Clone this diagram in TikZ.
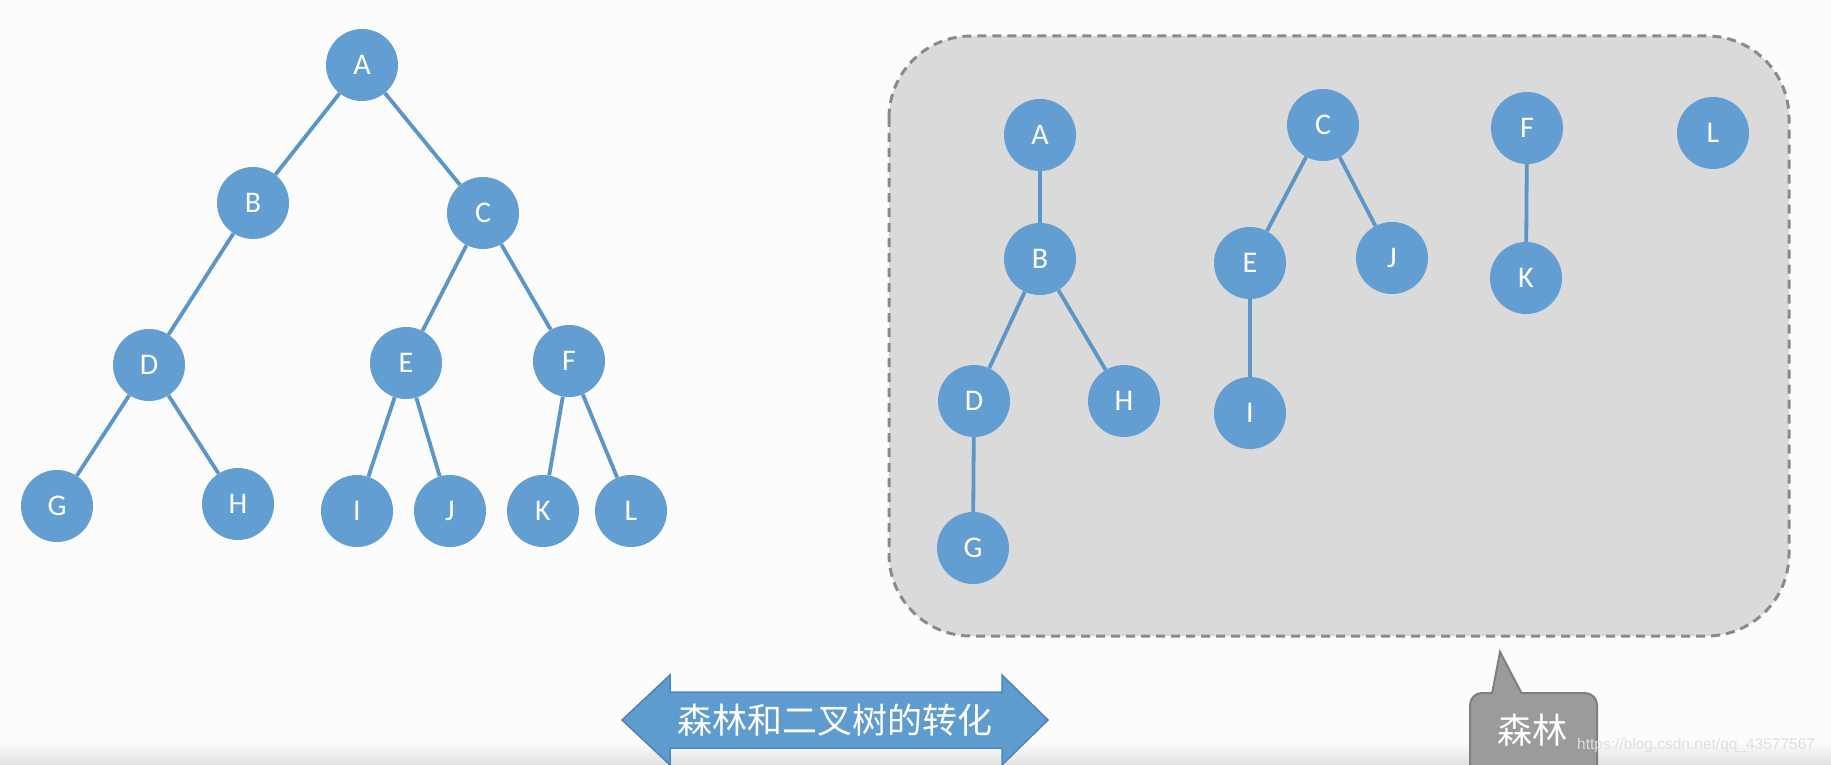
\documentclass[tikz,border=0pt]{standalone}
\usepackage{fontspec}
\newfontfamily\nodefont{Carlito}
\newfontfamily\cjk{Noto Sans CJK SC}
\newfontfamily\wmfont{Liberation Sans}
\definecolor{bgcol}{HTML}{FCFCFD}
\definecolor{nodeblue}{HTML}{639ED2}
\definecolor{edgeblue}{HTML}{5C95C8}
\definecolor{boxfill}{HTML}{DADADA}
\definecolor{boxline}{HTML}{858B94}
\definecolor{arrowfill}{HTML}{5E9BCF}
\definecolor{arrowline}{HTML}{4F86B8}
\definecolor{callfill}{HTML}{9B9B9B}
\definecolor{callline}{HTML}{7A8088}
\tikzset{
  tnode/.style={circle, fill=nodeblue, minimum size=72pt, inner sep=0pt,
    text=white, font=\nodefont\fontsize{30}{36}\selectfont},
  tedge/.style={draw=edgeblue, line width=3.8pt},
  forestbox/.style={draw=boxline, fill=boxfill, line width=3pt,
    dash pattern=on 9pt off 6pt, rounded corners=82pt},
  bigarrow/.style={fill=arrowfill, draw=arrowline, line width=1.5pt, line join=miter},
  callout/.style={fill=callfill, draw=callline, line width=2pt, rounded corners=12pt},
  cjklabel/.style={text=white, font=\cjk\fontsize{35}{42}\selectfont, inner sep=0pt},
  wmark/.style={text=white!75!gray, font=\wmfont\fontsize{15.5}{17}\selectfont, inner sep=0pt}
}
\begin{document}
\begin{tikzpicture}[x=1pt,y=-1pt]
\fill[bgcol] (0,0) rectangle (1831,765);
\useasboundingbox (0,0) rectangle (1831,765);
\shade[top color=bgcol, bottom color=black!12] (0,742) rectangle (1831,765);

% left binary tree
\node[tnode] (lA) at (362,65) {A};
\node[tnode] (lB) at (253,203) {B};
\node[tnode] (lC) at (483,213) {C};
\node[tnode] (lD) at (149,365) {D};
\node[tnode] (lE) at (406,363) {E};
\node[tnode] (lF) at (569,361) {F};
\node[tnode] (lG) at (57,506) {G};
\node[tnode] (lH) at (238,504) {H};
\node[tnode] (lI) at (357,511) {I};
\node[tnode] (lJ) at (450,511) {J};
\node[tnode] (lK) at (543,511) {K};
\node[tnode] (lL) at (631,511) {L};
\draw[tedge] (lA) -- (lB);
\draw[tedge] (lA) -- (lC);
\draw[tedge] (lB) -- (lD);
\draw[tedge] (lD) -- (lG);
\draw[tedge] (lD) -- (lH);
\draw[tedge] (lC) -- (lE);
\draw[tedge] (lC) -- (lF);
\draw[tedge] (lE) -- (lI);
\draw[tedge] (lE) -- (lJ);
\draw[tedge] (lF) -- (lK);
\draw[tedge] (lF) -- (lL);

% forest box
\draw[forestbox] (889,36) rectangle (1789,636);

\node[tnode] (rA) at (1040,135) {A};
\node[tnode] (rB) at (1040,259) {B};
\node[tnode] (rD) at (974,401) {D};
\node[tnode] (rH) at (1124,401) {H};
\node[tnode] (rG) at (973,548) {G};
\node[tnode] (rC) at (1323,125) {C};
\node[tnode] (rE) at (1250,263) {E};
\node[tnode] (rJ) at (1392,258) {J};
\node[tnode] (rI) at (1250,413) {I};
\node[tnode] (rF) at (1527,128) {F};
\node[tnode] (rK) at (1526,278) {K};
\node[tnode] (rL) at (1713,133) {L};
\draw[tedge] (rA) -- (rB);
\draw[tedge] (rB) -- (rD);
\draw[tedge] (rB) -- (rH);
\draw[tedge] (rD) -- (rG);
\draw[tedge] (rC) -- (rE);
\draw[tedge] (rC) -- (rJ);
\draw[tedge] (rE) -- (rI);
\draw[tedge] (rF) -- (rK);

% double arrow
\draw[bigarrow] (622,720) -- (670,675) -- (670,692) -- (1002,692) -- (1002,675)
  -- (1048,720) -- (1002,765) -- (1002,748) -- (670,748) -- (670,765) -- cycle;
\node[cjklabel] (arrowtext) at (835,720) {森林和二叉树的转化};

% callout
\draw[callout] (1470,693) rectangle (1597,800);
\fill[callfill] (1491,696) -- (1500,652) -- (1523,696) -- cycle;
\draw[callline, line width=2pt, line join=miter] (1492,694) -- (1500,652) -- (1522,694);
\node[cjklabel] (calltext) at (1532,730) {森林};

% watermark
\node[wmark, anchor=west] (wm) at (1577,745) {https://blog.csdn.net/qq\_43577567};
\end{tikzpicture}
\end{document}
